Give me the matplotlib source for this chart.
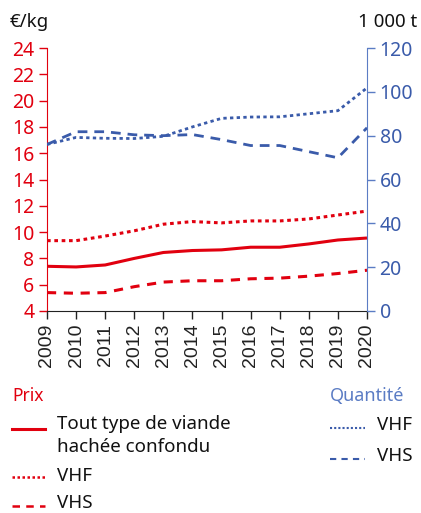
import matplotlib
matplotlib.use("Agg")
import matplotlib.pyplot as plt
from matplotlib.lines import Line2D

years = [2009, 2010, 2011, 2012, 2013, 2014, 2015, 2016, 2017, 2018, 2019, 2020]
prix_total = [7.4, 7.35, 7.5, 8.0, 8.45, 8.6, 8.65, 8.85, 8.85, 9.1, 9.4, 9.55]
prix_vhf = [9.35, 9.35, 9.7, 10.1, 10.6, 10.8, 10.7, 10.85, 10.85, 11.0, 11.3, 11.6]
prix_vhs = [5.4, 5.35, 5.4, 5.85, 6.2, 6.3, 6.3, 6.45, 6.5, 6.65, 6.85, 7.1]
qte_vhf = [76.0, 79.2, 78.8, 78.7, 79.7, 84.0, 87.9, 88.5, 88.6, 90.0, 91.4, 101.8]
qte_vhs = [76.0, 81.8, 81.8, 80.4, 80.0, 80.5, 78.2, 75.5, 75.5, 72.7, 69.9, 83.6]

RED = "#E1000F"
BLUE = "#3A5BAA"
BLUE_AX = "#5B7CC4"
FONT = "Noto Sans"

plt.rcParams['font.family'] = [FONT, 'DejaVu Sans']

fig = plt.figure(figsize=(4.21, 5.13), dpi=100)
ax = fig.add_axes([47/421, (513-311)/513, (367-47)/421, (311-48)/513])
ax2 = ax.twinx()

ax.plot(years, prix_total, color=RED, lw=2.2, solid_capstyle='butt')
ax.plot(years, prix_vhf, color=RED, lw=2.2, linestyle=(0, (1.2, 1.2)))
ax.plot(years, prix_vhs, color=RED, lw=2.2, linestyle=(0, (3, 2.5)))
ax2.plot(years, qte_vhf, color=BLUE, lw=2.0, linestyle=(0, (1.2, 1.2)))
ax2.plot(years, qte_vhs, color=BLUE, lw=2.0, linestyle=(0, (3.5, 2.5)))

ax.set_xlim(2009, 2020)
ax.set_ylim(4, 24)
ax.set_yticks(range(4, 25, 2))
ax2.set_ylim(0, 120)
ax2.set_yticks(range(0, 121, 20))
ax.set_xticks(years)
ax.set_xticklabels([str(y) for y in years], rotation=90, fontsize=14,
                   family=['Liberation Sans', 'DejaVu Sans'], color='#111111')

for a in (ax, ax2):
    a.spines['top'].set_visible(False)
ax.spines['right'].set_visible(False)
ax2.spines['left'].set_visible(False)
ax2.spines['bottom'].set_visible(False)
ax.spines['left'].set_color(RED)
ax2.spines['right'].set_color(BLUE_AX)
ax.spines['bottom'].set_color('#222222')

ax.tick_params(axis='y', colors=RED, labelsize=14, length=6, width=1, pad=3)
ax2.tick_params(axis='y', colors=BLUE_AX, labelcolor=BLUE, labelsize=14, length=6, width=1, pad=3)
ax.tick_params(axis='x', colors='#222222', length=6, width=1, pad=3)

fig.text(10/421, 1 - 22/513, "€/kg", fontsize=13.5, va='center', ha='left', color='#111111')
fig.text(417/421, 1 - 22/513, "1 000 t", fontsize=13.5, va='center', ha='right', color='#111111')

# Legend
def fy(y):
    return 1 - y/513

fig.text(12/421, fy(396), "Prix", fontsize=12.5, color=RED, va='center', ha='left')
fig.text(330/421, fy(396), "Quantité", fontsize=13, color=BLUE_AX, va='center', ha='left')

def leg_line(x0, x1, y, color, ls, lw):
    fig.add_artist(Line2D([x0/421, x1/421], [fy(y), fy(y)], color=color, linestyle=ls, lw=lw,
                          transform=fig.transFigure))

leg_line(12, 45, 429, RED, '-', 2.2)
fig.text(57/421, fy(424), "Tout type de viande", fontsize=13.5, va='center', ha='left', color='#111111')
fig.text(57/421, fy(447), "hachée confondu", fontsize=13.5, va='center', ha='left', color='#111111')
leg_line(12, 45, 477, RED, (0, (1, 1)), 1.8)
fig.text(57/421, fy(476), "VHF", fontsize=13.5, va='center', ha='left', color='#111111')
leg_line(12, 45, 506, RED, (0, (3, 2.5)), 1.8)
fig.text(57/421, fy(503), "VHS", fontsize=13.5, va='center', ha='left', color='#111111')

leg_line(330, 365, 428, BLUE, (0, (1, 1)), 1.5)
fig.text(377/421, fy(425), "VHF", fontsize=13.5, va='center', ha='left', color='#111111')
leg_line(330, 365, 459, BLUE, (0, (3, 2.5)), 1.5)
fig.text(377/421, fy(456), "VHS", fontsize=13.5, va='center', ha='left', color='#111111')

fig.savefig("out.png", dpi=100)
